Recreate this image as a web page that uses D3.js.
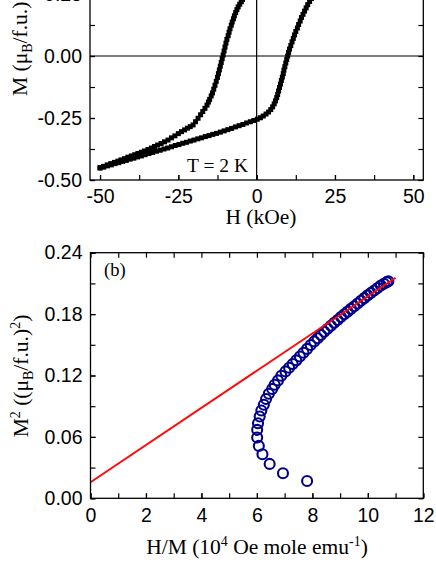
<!DOCTYPE html>
<html>
<head>
<meta charset="utf-8">
<script src="https://cdn.jsdelivr.net/npm/d3@7"></script>
<style>
  html, body { margin: 0; padding: 0; background: #fff; }
  svg { display: block; }
</style>
</head>
<body>
<div id="chart"></div>
<script>
// (a) hysteresis loop at T = 2 K, [H (kOe), M (muB/f.u.)]
const loopDown = [
  [-4.5, 0.228], [-4.9, 0.219], [-5.4, 0.209], [-5.9, 0.198], [-6.3, 0.187], [-6.7, 0.175],
  [-7.1, 0.162], [-7.4, 0.150], [-7.8, 0.137], [-8.1, 0.124], [-8.5, 0.110], [-8.8, 0.096],
  [-9.1, 0.082], [-9.5, 0.067], [-9.8, 0.052], [-10.1, 0.036], [-10.4, 0.020], [-10.7, 0.004],
  [-11.0, -0.011], [-11.3, -0.026], [-11.6, -0.041], [-11.9, -0.056], [-12.2, -0.071], [-12.5, -0.086],
  [-12.9, -0.102], [-13.3, -0.118], [-13.7, -0.134], [-14.1, -0.149], [-14.5, -0.161], [-15.0, -0.175],
  [-15.4, -0.186], [-15.85, -0.198], [-16.5, -0.211], [-17.2, -0.224], [-17.9, -0.237], [-18.7, -0.251],
  [-19.5, -0.265], [-20.3, -0.278], [-21.2, -0.285], [-22.1, -0.291], [-23.0, -0.298], [-24.0, -0.305],
  [-25.0, -0.313], [-26.1, -0.322], [-27.2, -0.330], [-28.3, -0.339], [-29.4, -0.346], [-30.5, -0.353],
  [-31.6, -0.359], [-32.6, -0.365], [-33.6, -0.371], [-34.7, -0.377], [-35.8, -0.383], [-36.8, -0.388],
  [-37.9, -0.393], [-38.9, -0.398], [-40.0, -0.403], [-41.1, -0.408], [-42.2, -0.414], [-43.3, -0.419],
  [-44.3, -0.424], [-45.4, -0.429], [-46.6, -0.434], [-47.7, -0.439], [-48.9, -0.445], [-50.0, -0.450]
]
const loopUp = [
  [-50.0, -0.452], [-48.8, -0.448], [-47.6, -0.443], [-46.4, -0.439], [-45.2, -0.434], [-44.0, -0.430],
  [-42.8, -0.425], [-41.6, -0.421], [-40.4, -0.416], [-39.2, -0.412], [-38.0, -0.407], [-36.8, -0.403],
  [-35.6, -0.398], [-34.4, -0.393], [-33.2, -0.389], [-32.0, -0.384], [-30.8, -0.380], [-29.6, -0.375],
  [-28.4, -0.371], [-27.2, -0.366], [-26.0, -0.361], [-24.8, -0.357], [-23.6, -0.352], [-22.4, -0.348],
  [-21.2, -0.343], [-20.0, -0.339], [-18.8, -0.334], [-17.6, -0.330], [-16.4, -0.325], [-15.2, -0.321],
  [-14.0, -0.316], [-12.8, -0.312], [-11.6, -0.307], [-10.4, -0.302], [-9.2, -0.297], [-8.0, -0.292],
  [-6.8, -0.286], [-5.6, -0.281], [-4.4, -0.276], [-3.2, -0.270], [-2.0, -0.265], [-0.9, -0.260],
  [0.2, -0.255], [1.2, -0.249], [2.1, -0.242], [3.0, -0.234], [3.8, -0.226], [4.5, -0.216],
  [5.1, -0.205], [5.6, -0.193], [6.0, -0.181], [6.4, -0.168], [6.7, -0.155], [7.0, -0.141],
  [7.3, -0.127], [7.6, -0.113], [7.9, -0.099], [8.2, -0.085], [8.5, -0.071], [8.7, -0.057],
  [9.0, -0.043], [9.3, -0.028], [9.6, -0.014], [9.9, 0.000], [10.2, 0.014], [10.5, 0.028],
  [10.9, 0.042], [11.3, 0.057], [11.7, 0.071], [12.1, 0.085], [12.5, 0.099], [13.0, 0.113],
  [13.4, 0.127], [13.9, 0.141], [14.3, 0.155], [14.8, 0.168], [15.3, 0.181], [15.8, 0.194],
  [16.3, 0.207], [16.9, 0.220], [17.5, 0.232]
]
const topXTicks = [-50, -25, 0, 25, 50]
const topYTicks = [-0.5, -0.25, 0, 0.25, 0.5]

// (b) Arrott plot, [H/M (10^4 Oe mole/emu), M^2]
const arrott = [
  [7.81, 0.0169], [6.94, 0.0245], [6.46, 0.0336], [6.20, 0.0431], [6.07, 0.0512], [6.01, 0.0594],
  [6.01, 0.0669], [6.04, 0.0734], [6.10, 0.0800], [6.16, 0.0858], [6.25, 0.0914], [6.33, 0.0970],
  [6.43, 0.1022], [6.55, 0.1068], [6.64, 0.1110], [6.76, 0.1152], [6.88, 0.1198], [7.03, 0.1240],
  [7.16, 0.1276], [7.29, 0.1312], [7.42, 0.1348], [7.55, 0.1385], [7.68, 0.1422], [7.81, 0.1460],
  [7.94, 0.1498], [8.07, 0.1533], [8.19, 0.1564], [8.31, 0.1596], [8.43, 0.1627], [8.55, 0.1657],
  [8.67, 0.1686], [8.79, 0.1715], [8.91, 0.1743], [9.03, 0.1772], [9.15, 0.1798], [9.27, 0.1824],
  [9.39, 0.1851], [9.51, 0.1877], [9.63, 0.1904], [9.75, 0.1930], [9.87, 0.1956], [9.99, 0.1983],
  [10.11, 0.2007], [10.23, 0.2031], [10.35, 0.2055], [10.47, 0.2079], [10.58, 0.2097], [10.68, 0.2112],
  [10.74, 0.2121]
]
const fitLine = [[0, 0.0157], [11, 0.2155]]
const botXTicks = [0, 2, 4, 6, 8, 10, 12]
const botYTicks = [0, 0.06, 0.12, 0.18, 0.24]

const width = 436
const height = 564
const sans = '"Liberation Sans", Arial, Helvetica, sans-serif'
const serif = '"Liberation Serif", "Times New Roman", Times, serif'
const fmt2 = d => d3.format('.2f')(d).replace('\u2212', '-')

const svg = d3.select('#chart').append('svg')
    .attr('width', width).attr('height', height)

function frame(g, x, y, xt, yt, xMinor, yMinor) {
    const [x0, x1] = x.range()
    const [y0, y1] = y.range()
    // minor ticks, all four sides, pointing in
    g.append('g').attr('transform', `translate(0,${y0})`)
        .call(d3.axisBottom(x).tickValues(xMinor).tickSize(-5).tickFormat(''))
    g.append('g').attr('transform', `translate(0,${y1})`)
        .call(d3.axisTop(x).tickValues(xMinor).tickSize(-5).tickFormat(''))
    g.append('g').attr('transform', `translate(${x0},0)`)
        .call(d3.axisLeft(y).tickValues(yMinor).tickSize(-5).tickFormat(''))
    g.append('g').attr('transform', `translate(${x1},0)`)
        .call(d3.axisRight(y).tickValues(yMinor).tickSize(-5).tickFormat(''))
    // labelled axes
    g.append('g').attr('transform', `translate(0,${y0})`)
        .call(d3.axisBottom(x).tickValues(xt).tickSize(-5).tickPadding(9.5).tickFormat(d => String(d)))
    g.append('g').attr('transform', `translate(${x0},0)`)
        .call(d3.axisLeft(y).tickValues(yt).tickSize(-5).tickPadding(8).tickFormat(fmt2))
    g.selectAll('.domain').remove()
    g.selectAll('line').attr('stroke', '#000').attr('stroke-width', 1.2)
    g.selectAll('text').attr('fill', '#000').style('font', `19.5px ${sans}`)
    g.append('rect')
        .attr('x', x0).attr('y', y1)
        .attr('width', x1 - x0).attr('height', y0 - y1)
        .attr('fill', 'none').attr('stroke', '#000').attr('stroke-width', 1.3)
}

// ---------- panel (a)
const xA = d3.scaleLinear().domain([-53.2, 53.2]).range([90, 423.3])
const yA = d3.scaleLinear().domain([-0.5, 0.5]).range([180, -68])
const gA = svg.append('g')

gA.append('line')
    .attr('x1', xA(-53.2)).attr('x2', xA(53.2)).attr('y1', yA(0)).attr('y2', yA(0))
    .attr('stroke', '#000').attr('stroke-width', 1.2)
gA.append('line')
    .attr('x1', xA(0)).attr('x2', xA(0)).attr('y1', yA(-0.5)).attr('y2', yA(0.5))
    .attr('stroke', '#000').attr('stroke-width', 1.2)

const sq = 5
gA.append('g')
    .selectAll('rect')
    .data(loopDown.concat(loopUp))
    .join('rect')
    .attr('x', d => xA(d[0]) - sq / 2)
    .attr('y', d => yA(d[1]) - sq / 2)
    .attr('width', sq).attr('height', sq)
    .attr('fill', '#000')

frame(gA, xA, yA, topXTicks, topYTicks,
    d3.range(-50, 51, 12.5), d3.range(-0.5, 0.51, 0.125))

gA.append('text')
    .attr('x', 248).attr('y', 171.5)
    .attr('text-anchor', 'end')
    .style('font', `19.5px ${serif}`)
    .text('T = 2 K')

gA.append('text')
    .attr('x', 261).attr('y', 223.5)
    .attr('text-anchor', 'middle')
    .style('font', `21.5px ${serif}`)
    .text('H (kOe)')

const tA = gA.append('text')
    .attr('transform', 'translate(27,96) rotate(-90)')
    .attr('text-anchor', 'start')
    .style('font', `21.5px ${serif}`)
tA.append('tspan').text('M (\u03bc')
tA.append('tspan').attr('dy', 5).style('font-size', '14px').text('B')
tA.append('tspan').attr('dy', -5).text('/f.u.)')

// ---------- panel (b)
const xB = d3.scaleLinear().domain([0, 12]).range([90.5, 423.3])
const yB = d3.scaleLinear().domain([0, 0.24]).range([498.3, 252.7])
const gB = svg.append('g')

gB.append('g')
    .selectAll('circle')
    .data(arrott)
    .join('circle')
    .attr('cx', d => xB(d[0]))
    .attr('cy', d => yB(d[1]))
    .attr('r', 5)
    .attr('fill', 'none')
    .attr('stroke', '#000088')
    .attr('stroke-width', 2.1)

gB.append('path')
    .datum(fitLine)
    .attr('d', d3.line().x(d => xB(d[0])).y(d => yB(d[1])))
    .attr('fill', 'none')
    .attr('stroke', '#ff0a0a')
    .attr('stroke-width', 2)

frame(gB, xB, yB, botXTicks, botYTicks,
    d3.range(0, 12.1, 1), d3.range(0, 0.241, 0.03))

gB.append('text')
    .attr('x', 104).attr('y', 276)
    .style('font', `18.5px ${serif}`)
    .text('(b)')

const xt = gB.append('text')
    .attr('x', 257).attr('y', 554)
    .attr('text-anchor', 'middle')
    .style('font', `21.5px ${serif}`)
xt.append('tspan').text('H/M (10')
xt.append('tspan').attr('dy', -8).style('font-size', '14px').text('4')
xt.append('tspan').attr('dy', 8).text(' Oe mole emu')
xt.append('tspan').attr('dy', -8).style('font-size', '14px').text('-1')
xt.append('tspan').attr('dy', 8).text(')')

const yt = gB.append('text')
    .attr('transform', 'translate(28,376) rotate(-90)')
    .attr('text-anchor', 'middle')
    .style('font', `21.5px ${serif}`)
yt.append('tspan').text('M')
yt.append('tspan').attr('dy', -8).style('font-size', '14px').text('2')
yt.append('tspan').attr('dy', 8).text(' ((\u03bc')
yt.append('tspan').attr('dy', 5).style('font-size', '14px').text('B')
yt.append('tspan').attr('dy', -5).text('/f.u.)')
yt.append('tspan').attr('dy', -8).style('font-size', '14px').text('2')
yt.append('tspan').attr('dy', 8).text(')')
</script>
</body>
</html>
